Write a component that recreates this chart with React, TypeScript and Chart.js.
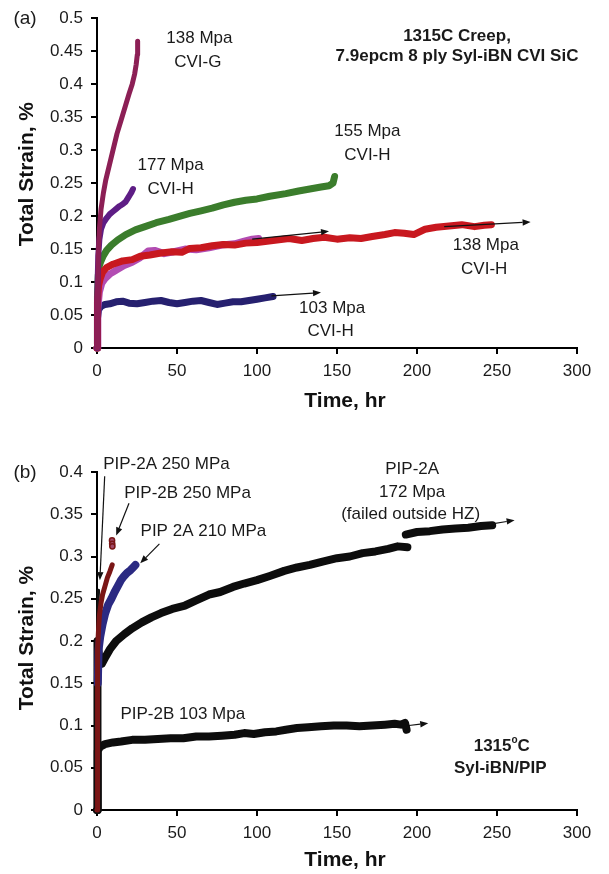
import React, { useEffect, useRef } from 'react';
import { Chart, registerables } from 'chart.js';

Chart.register(...registerables);

const FONT = '"Liberation Sans", Arial, Helvetica, sans-serif';

// ---------- shared ticks ----------
const xTickLabels = ['0', '50', '100', '150', '200', '250', '300'];
const yTickLabelsA = ['0', '0.05', '0.1', '0.15', '0.2', '0.25', '0.3', '0.35', '0.4', '0.45', '0.5'];
const yTickLabelsB = ['0', '0.05', '0.1', '0.15', '0.2', '0.25', '0.3', '0.35', '0.4'];

// ---------- panel (a): 1315C creep, CVI SiC ----------
const cviG138Time = [0, 0.3, 0.8, 1.5, 2.5, 4, 5.5, 7.5, 10, 12.5, 15, 17.5, 20, 22, 23.5, 24.5, 25.2, 25.4];
const cviG138Strain = [0, 0.08, 0.14, 0.18, 0.21, 0.235, 0.255, 0.275, 0.3, 0.325, 0.345, 0.365, 0.385, 0.4, 0.415, 0.43, 0.445, 0.465];

const cviH177Time = [0, 0.3, 0.8, 1.5, 2.5, 4, 6, 8, 10, 12, 14, 16, 18, 19.5, 20.5, 21.5, 22.5];
const cviH177Strain = [0, 0.09, 0.14, 0.165, 0.18, 0.19, 0.197, 0.203, 0.207, 0.211, 0.215, 0.218, 0.222, 0.228, 0.232, 0.236, 0.241];

const cviH155Time = [0, 0.3, 0.8, 1.5, 2.5, 4, 6, 9, 13, 18, 24, 30, 37, 45, 52, 58, 65, 72, 79, 86, 93, 100, 108, 118, 126, 133, 140, 145, 147.5, 148.5];
const cviH155Strain = [0, 0.08, 0.11, 0.125, 0.132, 0.14, 0.148, 0.156, 0.164, 0.172, 0.179, 0.184, 0.19, 0.195, 0.2, 0.204, 0.208, 0.212, 0.217, 0.221, 0.224, 0.226, 0.23, 0.234, 0.238, 0.241, 0.244, 0.246, 0.25, 0.26];

const cviH138Time = [0, 0.3, 1, 2, 3.5, 6, 10, 16, 22, 27, 33, 40, 47, 53, 58, 65, 72, 79, 86, 93, 100, 110, 120, 128, 135, 142, 150, 158, 165, 172, 180, 186, 192, 198, 205, 212, 220, 228, 236, 242, 246.5];
const cviH138Strain = [0, 0.07, 0.095, 0.105, 0.115, 0.122, 0.127, 0.132, 0.134, 0.139, 0.141, 0.144, 0.146, 0.145, 0.151, 0.152, 0.155, 0.157, 0.156, 0.159, 0.16, 0.163, 0.166, 0.163, 0.166, 0.168, 0.165, 0.167, 0.166, 0.169, 0.172, 0.175, 0.174, 0.172, 0.18, 0.183, 0.185, 0.187, 0.184, 0.186, 0.187];

const cviH138bTime = [0, 0.5, 1.5, 3, 5, 8, 12, 17, 22, 27, 32, 36, 42, 48, 55, 62, 70, 78, 86, 92, 97, 101];
const cviH138bStrain = [0, 0.06, 0.085, 0.098, 0.105, 0.112, 0.118, 0.125, 0.13, 0.137, 0.147, 0.148, 0.143, 0.146, 0.15, 0.149, 0.152, 0.156, 0.158, 0.162, 0.165, 0.166];

const cviH103Time = [0, 0.3, 1, 2.5, 5, 8, 12, 16, 20, 25, 30, 35, 40, 45, 50, 55, 60, 65, 70, 75, 80, 85, 90, 95, 100, 105, 110];
const cviH103Strain = [0, 0.045, 0.058, 0.063, 0.066, 0.067, 0.07, 0.071, 0.068, 0.067, 0.069, 0.071, 0.072, 0.069, 0.067, 0.069, 0.071, 0.072, 0.069, 0.066, 0.068, 0.07, 0.07, 0.072, 0.074, 0.076, 0.078];

// ---------- panel (b): 1315oC Syl-iBN/PIP ----------
const pip2B250Time = [0, 0.2, 0.5, 1, 1.5, 2.5, 3.5, 5, 6.5, 8, 9.5];
const pip2B250Strain = [0, 0.1, 0.19, 0.215, 0.23, 0.245, 0.255, 0.265, 0.275, 0.282, 0.29];
const pip2B250PeakTime = [9.4, 9.5, 9.6];
const pip2B250PeakStrain = [0.319, 0.315, 0.312];

const pip2A210Time = [0.5, 1, 2, 3.5, 5, 7, 9, 11, 13, 15, 17, 19, 21, 23, 24];
const pip2A210Strain = [0.15, 0.19, 0.205, 0.22, 0.232, 0.243, 0.25, 0.258, 0.265, 0.272, 0.277, 0.281, 0.284, 0.288, 0.29];

const pip2A250Time = [0, 0.3, 0.6, 1];
const pip2A250Strain = [0, 0.2, 0.24, 0.26];

const pip2A172Time1 = [0, 0.3, 1.5, 3, 5, 8, 12, 17, 22, 28, 34, 40, 47, 55, 62, 70, 77, 85, 92, 100, 108, 117, 125, 133, 141, 150, 158, 166, 174, 182, 188, 194];
const pip2A172Strain1 = [0, 0.2, 0.178, 0.173, 0.18, 0.19, 0.2, 0.208, 0.215, 0.222, 0.228, 0.233, 0.238, 0.242, 0.248, 0.255, 0.258, 0.264, 0.268, 0.272, 0.277, 0.283, 0.287, 0.29, 0.294, 0.298, 0.3, 0.304, 0.306, 0.309, 0.312, 0.311];
const pip2A172Time2 = [193, 200, 208, 216, 224, 232, 240, 247];
const pip2A172Strain2 = [0.326, 0.329, 0.33, 0.332, 0.333, 0.334, 0.336, 0.337];

const pip2B103Time = [0, 0.5, 2, 5, 10, 15, 22, 30, 38, 46, 54, 62, 70, 78, 86, 92, 98, 105, 112, 118, 125, 132, 140, 148, 156, 164, 172, 180, 186, 190, 192.5, 193.5];
const pip2B103Strain = [0, 0.07, 0.075, 0.078, 0.08, 0.081, 0.083, 0.083, 0.084, 0.085, 0.085, 0.087, 0.087, 0.088, 0.089, 0.091, 0.09, 0.092, 0.093, 0.095, 0.097, 0.098, 0.099, 0.1, 0.1, 0.099, 0.1, 0.101, 0.102, 0.101, 0.103, 0.095];

// ---------- annotations (data coordinates) ----------
type Txt = { text: string; x: number; y: number; bold?: boolean };
type Arrow = { x1: number; y1: number; x2: number; y2: number };

const textsA: Txt[] = [
  { text: '138 Mpa', x: 64, y: 0.469 },
  { text: 'CVI-G', x: 63, y: 0.433 },
  { text: '177 Mpa', x: 46, y: 0.277 },
  { text: 'CVI-H', x: 46, y: 0.241 },
  { text: '155 Mpa', x: 169, y: 0.328 },
  { text: 'CVI-H', x: 169, y: 0.292 },
  { text: '1315C Creep,', x: 225, y: 0.473, bold: true },
  { text: '7.9epcm 8 ply Syl-iBN CVI SiC', x: 225, y: 0.4416, bold: true },
  { text: '138 Mpa', x: 243, y: 0.156 },
  { text: 'CVI-H', x: 242, y: 0.12 },
  { text: '103 Mpa', x: 147, y: 0.06 },
  { text: 'CVI-H', x: 146, y: 0.026 },
];
const arrowsA: Arrow[] = [
  { x1: 97, y1: 0.165, x2: 145, y2: 0.177 },
  { x1: 109, y1: 0.079, x2: 140, y2: 0.084 },
  { x1: 217, y1: 0.184, x2: 271, y2: 0.191 },
];
const textsB: Txt[] = [
  { text: 'PIP-2A 250 MPa', x: 43.4, y: 0.409 },
  { text: 'PIP-2B 250 MPa', x: 56.6, y: 0.375 },
  { text: 'PIP 2A 210 MPa', x: 66.5, y: 0.33 },
  { text: 'PIP-2A', x: 197, y: 0.403 },
  { text: '172 Mpa', x: 197, y: 0.376 },
  { text: '(failed outside HZ)', x: 196, y: 0.35 },
  { text: 'PIP-2B 103 Mpa', x: 53.6, y: 0.113 },
  { text: '1315ºC', x: 253, y: 0.0755, bold: true },
  { text: 'Syl-iBN/PIP', x: 252, y: 0.0495, bold: true },
];
const arrowsB: Arrow[] = [
  { x1: 245, y1: 0.338, x2: 261, y2: 0.343 },
  { x1: 195, y1: 0.1, x2: 207, y2: 0.1026 },
  { x1: 20, y1: 0.363, x2: 12, y2: 0.325 },
  { x1: 39, y1: 0.315, x2: 27, y2: 0.292 },
  { x1: 4.8, y1: 0.395, x2: 1.8, y2: 0.272 },
];

const pts = (t: number[], s: number[]) => t.map((x, i) => ({ x, y: s[i] }));

function line(label: string, t: number[], s: number[], color: string, width: number) {
  return {
    label,
    data: pts(t, s),
    borderColor: color,
    backgroundColor: color,
    borderWidth: width,
    pointRadius: 0,
    tension: 0,
    borderJoinStyle: 'round' as const,
    borderCapStyle: 'round' as const,
    clip: false as const,
  };
}

type PanelCfg = {
  panel: string;
  texts: Txt[];
  arrows: Arrow[];
  xTitleGap: number;
  yTitleShift: number;
};

function drawText(ctx: CanvasRenderingContext2D, t: Txt, px: number, py: number) {
  const size = 17;
  const base = `${t.bold ? 'bold ' : ''}${size}px ${FONT}`;
  ctx.textBaseline = 'middle';
  if (t.text.includes('º')) {
    const [a, b] = t.text.split('º');
    const supFont = `${t.bold ? 'bold ' : ''}${Math.round(size * 0.6)}px ${FONT}`;
    ctx.font = base;
    const wa = ctx.measureText(a).width;
    const wb = ctx.measureText(b).width;
    ctx.font = supFont;
    const wo = ctx.measureText('o').width;
    const total = wa + wo + wb;
    let x = px - total / 2;
    ctx.textAlign = 'left';
    ctx.font = base;
    ctx.fillText(a, x, py);
    x += wa;
    ctx.font = supFont;
    ctx.fillText('o', x, py - 6);
    x += wo;
    ctx.font = base;
    ctx.fillText(b, x, py);
  } else {
    ctx.font = base;
    ctx.textAlign = 'center';
    ctx.fillText(t.text, px, py);
  }
}

function makePlugin(cfg: PanelCfg) {
  return {
    id: 'annot' + cfg.panel,
    afterDatasetsDraw(chart: any) {
      const ctx: CanvasRenderingContext2D = chart.ctx;
      const xs = chart.scales.x;
      const ys = chart.scales.y;
      const area = chart.chartArea;
      ctx.save();
      // arrows
      ctx.strokeStyle = '#111';
      ctx.fillStyle = '#111';
      ctx.lineWidth = 1.2;
      cfg.arrows.forEach((a) => {
        const x1 = xs.getPixelForValue(a.x1);
        const y1 = ys.getPixelForValue(a.y1);
        const x2 = xs.getPixelForValue(a.x2);
        const y2 = ys.getPixelForValue(a.y2);
        const ang = Math.atan2(y2 - y1, x2 - x1);
        const hl = 8;
        const hw = 3.2;
        const bx = x2 - hl * Math.cos(ang);
        const by = y2 - hl * Math.sin(ang);
        ctx.beginPath();
        ctx.moveTo(x1, y1);
        ctx.lineTo(bx, by);
        ctx.stroke();
        ctx.beginPath();
        ctx.moveTo(x2, y2);
        ctx.lineTo(bx + hw * Math.sin(ang), by - hw * Math.cos(ang));
        ctx.lineTo(bx - hw * Math.sin(ang), by + hw * Math.cos(ang));
        ctx.closePath();
        ctx.fill();
      });
      // texts
      ctx.fillStyle = '#1a1a1a';
      cfg.texts.forEach((t) => drawText(ctx, t, xs.getPixelForValue(t.x), ys.getPixelForValue(t.y)));
      // panel label
      ctx.font = `19px ${FONT}`;
      ctx.textAlign = 'center';
      ctx.textBaseline = 'middle';
      ctx.fillText(cfg.panel, 25, area.top + 1);
      // axis titles
      ctx.font = `bold 21px ${FONT}`;
      ctx.fillStyle = '#111';
      ctx.fillText('Time, hr', (area.left + area.right) / 2 + 8, area.bottom + cfg.xTitleGap);
      ctx.save();
      ctx.translate(27, (area.top + area.bottom) / 2 + cfg.yTitleShift);
      ctx.rotate(-Math.PI / 2);
      ctx.fillText('Total Strain, %', 0, 0);
      ctx.restore();
      ctx.restore();
    },
  };
}

function makeOptions(yMax: number, yLabels: string[], padTop: number, xAxisHeight: number) {
  const gridCfg = {
    display: true,
    drawOnChartArea: false,
    drawTicks: true,
    tickLength: 6,
    color: '#000',
    lineWidth: 2,
  };
  return {
    responsive: false,
    animation: false as const,
    layout: { padding: { top: padTop, right: 32, left: 0, bottom: 0 } },
    plugins: { legend: { display: false }, tooltip: { enabled: false }, title: { display: false } },
    scales: {
      x: {
        type: 'linear' as const,
        min: 0,
        max: 300,
        grid: gridCfg,
        border: { display: true, color: '#000', width: 2 },
        ticks: {
          stepSize: 50,
          padding: 7,
          color: '#1a1a1a',
          font: { size: 17, family: FONT },
          maxRotation: 0,
          callback: (v: number) => xTickLabels.find((l) => Math.abs(parseFloat(l) - v) < 1e-6) ?? '',
        },
        afterFit: (s: any) => {
          s.height = xAxisHeight;
        },
      },
      y: {
        type: 'linear' as const,
        min: 0,
        max: yMax,
        grid: gridCfg,
        border: { display: true, color: '#000', width: 2 },
        ticks: {
          stepSize: 0.05,
          padding: 8,
          color: '#1a1a1a',
          font: { size: 17, family: FONT },
          callback: (v: number) => yLabels.find((l) => Math.abs(parseFloat(l) - v) < 1e-6) ?? '',
        },
        afterFit: (s: any) => {
          s.width = 97;
        },
      },
    },
  };
}

function PanelA() {
  const ref = useRef<HTMLCanvasElement>(null);
  useEffect(() => {
    if (!ref.current) return;
    const chart = new Chart(ref.current, {
      type: 'line',
      data: {
        datasets: [
          line('138 Mpa CVI-G', cviG138Time, cviG138Strain, '#8c1f55', 5),
          line('177 Mpa CVI-H', cviH177Time, cviH177Strain, '#5e1d85', 6),
          line('138 Mpa CVI-H', cviH138Time, cviH138Strain, '#c8181f', 7),
          line('138 Mpa CVI-H (2)', cviH138bTime, cviH138bStrain, '#b24cb2', 7),
          line('155 Mpa CVI-H', cviH155Time, cviH155Strain, '#3b7d2c', 7),
          line('103 Mpa CVI-H', cviH103Time, cviH103Strain, '#26206f', 7),
        ] as any,
      },
      options: makeOptions(0.5, yTickLabelsA, 15, 67) as any,
      plugins: [makePlugin({ panel: '(a)', texts: textsA, arrows: arrowsA, xTitleGap: 53, yTitleShift: -9 })],
    });
    return () => chart.destroy();
  }, []);
  return <canvas ref={ref} width={609} height={415} style={{ display: 'block' }} />;
}

function PanelB() {
  const ref = useRef<HTMLCanvasElement>(null);
  useEffect(() => {
    if (!ref.current) return;
    const peak = {
      label: 'PIP-2B 250 MPa peak',
      data: pts(pip2B250PeakTime, pip2B250PeakStrain),
      showLine: false,
      pointRadius: 2.6,
      pointBackgroundColor: '#a24a6a',
      pointBorderColor: '#7a1616',
      pointBorderWidth: 1.5,
      clip: false,
    };
    const chart = new Chart(ref.current, {
      type: 'line',
      data: {
        datasets: [
          line('PIP-2B 250 MPa', pip2B250Time, pip2B250Strain, '#7a1616', 5),
          peak,
          line('PIP 2A 210 MPa', pip2A210Time, pip2A210Strain, '#2b2a82', 8),
          line('PIP-2A 250 MPa', pip2A250Time, pip2A250Strain, '#111111', 3),
          line('PIP-2A 172 Mpa', pip2A172Time1, pip2A172Strain1, '#0d0d0d', 8),
          line('PIP-2A 172 Mpa (b)', pip2A172Time2, pip2A172Strain2, '#0d0d0d', 8),
          line('PIP-2B 103 Mpa', pip2B103Time, pip2B103Strain, '#0d0d0d', 8),
        ] as any,
      },
      options: makeOptions(0.4, yTickLabelsB, 57, 64) as any,
      plugins: [makePlugin({ panel: '(b)', texts: textsB, arrows: arrowsB, xTitleGap: 50, yTitleShift: -3 })],
    });
    return () => chart.destroy();
  }, []);
  return <canvas ref={ref} width={609} height={459} style={{ display: 'block' }} />;
}

export default function App() {
  return (
    <div style={{ position: 'absolute', left: 0, top: 0, width: 609, height: 874, background: '#fff' }}>
      <PanelA />
      <PanelB />
    </div>
  );
}
